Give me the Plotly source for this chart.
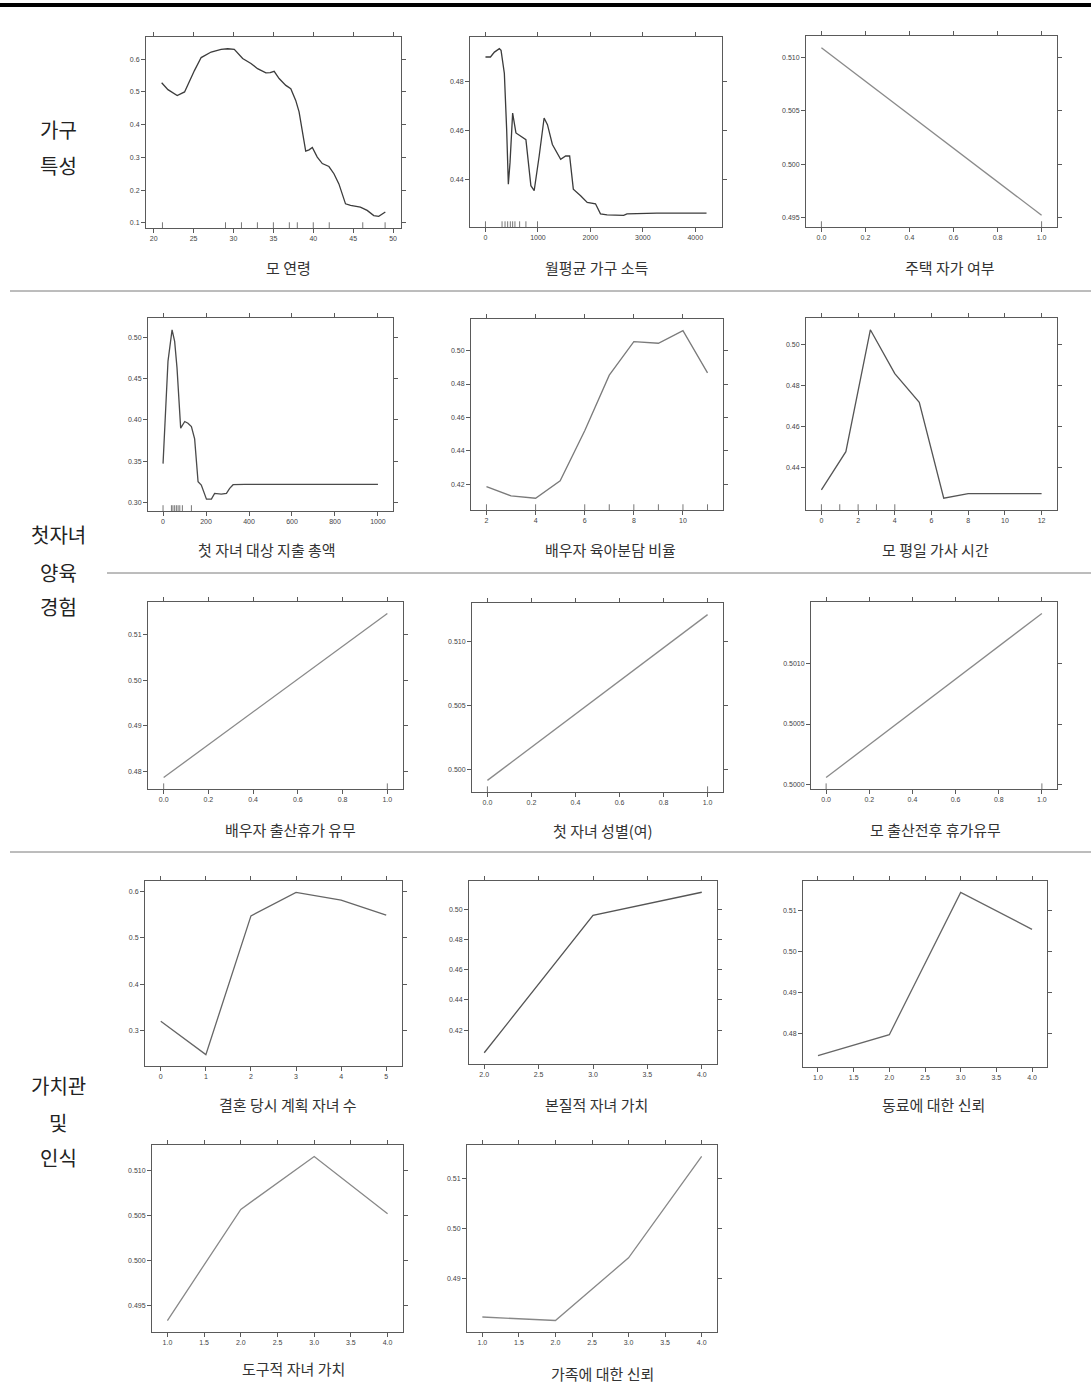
import plotly.graph_objects as go

W, H = 1091, 1388

# ---------------- data ----------------
age_x = [21.0, 21.79, 22.95, 23.87, 25.12, 25.95, 27.2, 28.45, 29.28, 30.1, 31.15, 32.19, 33.02, 34.06, 34.6,
         35.1, 35.72, 36.56, 37.18, 37.8, 38.22, 38.64, 39.05, 39.47, 39.88, 40.5, 41.13, 41.96, 42.59, 43.21,
         44.04, 44.67, 45.9, 46.75, 47.58, 48.2, 49.03]
age_y = [0.528, 0.507, 0.489, 0.500, 0.566, 0.605, 0.622, 0.630, 0.632, 0.630, 0.602, 0.587, 0.571, 0.558, 0.559,
         0.563, 0.541, 0.520, 0.510, 0.474, 0.439, 0.383, 0.319, 0.323, 0.330, 0.301, 0.281, 0.272, 0.250, 0.219,
         0.158, 0.153, 0.148, 0.138, 0.122, 0.120, 0.133]
age_rug = [21.1, 29.0, 31.0, 33.0, 35.0, 37.0, 38.0, 40.0, 42.0, 46.2, 49.0]

income_x = [0, 95, 171, 265, 297, 360, 404, 436, 468, 518, 581, 676, 771, 866, 929, 1024, 1118, 1182, 1276, 1434,
            1529, 1605, 1675, 1814, 1940, 2098, 2193, 2319, 2635, 2698, 3267, 4215]
income_y = [0.4901, 0.4901, 0.4921, 0.4935, 0.4928, 0.4834, 0.4605, 0.4382, 0.4470, 0.4672, 0.4591, 0.4578, 0.4564,
            0.4376, 0.4356, 0.4497, 0.4652, 0.4625, 0.4544, 0.4484, 0.4497, 0.4497, 0.4362, 0.4335, 0.4308, 0.4302,
            0.4261, 0.4257, 0.4255, 0.4261, 0.4264, 0.4264]
income_rug = [0, 316, 373, 423, 474, 518, 562, 651, 771, 992]

own_x = [0, 1]
own_y = [0.51088, 0.49525]
own_rug = [0, 1]

spend_x = [0, 12, 23, 42, 54, 65, 82, 101, 116, 132, 147, 163, 178, 202, 225, 240, 271, 295, 310, 326, 380, 1000]
spend_y = [0.347, 0.414, 0.471, 0.509, 0.495, 0.463, 0.390, 0.398, 0.396, 0.392, 0.377, 0.325, 0.321, 0.304,
           0.304, 0.311, 0.310, 0.311, 0.317, 0.3215, 0.322, 0.322]
spend_rug = [0, 39, 46, 54, 62, 70, 78, 90, 132]

share_x = [2, 3, 4, 5, 6, 7, 8, 9, 10, 11]
share_y = [0.4186, 0.4130, 0.4116, 0.4220, 0.4520, 0.4853, 0.5054, 0.5044, 0.5119, 0.4867]
share_rug = [2, 4, 6, 7, 8, 9, 10, 11]

house_x = [0, 1.333, 2.667, 4, 5.333, 6.667, 8, 9.333, 10.667, 12]
house_y = [0.4293, 0.4479, 0.5074, 0.4860, 0.4720, 0.4252, 0.4274, 0.4274, 0.4274, 0.4274]
house_rug = [0, 1, 2, 3, 4]

leave_sp_x = [0, 1]
leave_sp_y = [0.4787, 0.5146]

sex_x = [0, 1]
sex_y = [0.49919, 0.51209]

leave_mo_x = [0, 1]
leave_mo_y = [0.500056, 0.501417]

plan_x = [0, 1, 2, 3, 4, 5]
plan_y = [0.3195, 0.2472, 0.5477, 0.5986, 0.5819, 0.5494]

intr_x = [2, 3, 4]
intr_y = [0.4049, 0.4963, 0.5116]

coll_x = [1, 2, 3, 4]
coll_y = [0.4747, 0.4798, 0.5145, 0.5055]

inst_x = [1, 2, 3, 4]
inst_y = [0.4933, 0.5057, 0.5116, 0.5052]

fam_x = [1, 2, 3, 4]
fam_y = [0.4824, 0.4817, 0.4942, 0.5144]

# tick values
t_age_x = [20, 25, 30, 35, 40, 45, 50]
t_age_y = [0.1, 0.2, 0.3, 0.4, 0.5, 0.6]
t_inc_x = [0, 1000, 2000, 3000, 4000]
t_inc_y = [0.44, 0.46, 0.48]
t_01_x = [0.0, 0.2, 0.4, 0.6, 0.8, 1.0]
t_own_y = [0.495, 0.500, 0.505, 0.510]
t_sp_x = [0, 200, 400, 600, 800, 1000]
t_sp_y = [0.30, 0.35, 0.40, 0.45, 0.50]
t_sh_x = [2, 4, 6, 8, 10]
t_sh_y = [0.42, 0.44, 0.46, 0.48, 0.50]
t_ho_x = [0, 2, 4, 6, 8, 10, 12]
t_ho_y = [0.44, 0.46, 0.48, 0.50]
t_ls_y = [0.48, 0.49, 0.50, 0.51]
t_sex_y = [0.500, 0.505, 0.510]
t_lm_y = [0.5000, 0.5005, 0.5010]
t_pl_x = [0, 1, 2, 3, 4, 5]
t_pl_y = [0.3, 0.4, 0.5, 0.6]
t_in_x = [2.0, 2.5, 3.0, 3.5, 4.0]
t_in_y = [0.42, 0.44, 0.46, 0.48, 0.50]
t_14_x = [1.0, 1.5, 2.0, 2.5, 3.0, 3.5, 4.0]
t_co_y = [0.48, 0.49, 0.50, 0.51]
t_is_y = [0.495, 0.500, 0.505, 0.510]
t_fa_y = [0.49, 0.50, 0.51]

titles = ["모 연령", "월평균 가구 소득", "주택 자가 여부",
          "첫 자녀 대상 지출 총액", "배우자 육아분담 비율", "모 평일 가사 시간",
          "배우자 출산휴가 유무", "첫 자녀 성별(여)", "모 출산전후 휴가유무",
          "결혼 당시 계획 자녀 수", "본질적 자녀 가치", "동료에 대한 신뢰",
          "도구적 자녀 가치", "가족에 대한 신뢰"]

sections = [["가구", "특성"], ["첫자녀", "양육", "경험"], ["가치관", "및", "인식"]]

# ---------------- layout of panels (pixel boxes) ----------------
panels = [
    dict(x=age_x, y=age_y, rug=age_rug, tx=t_age_x, ty=t_age_y, fx="d", fy=".1f", box=(146, 37, 401, 228), col="#3c3c3c", title_xy=(288, 267)),
    dict(x=income_x, y=income_y, rug=income_rug, tx=t_inc_x, ty=t_inc_y, fx="d", fy=".2f", box=(470, 37, 722, 227), col="#3c3c3c", title_xy=(597, 267)),
    dict(x=own_x, y=own_y, rug=own_rug, tx=t_01_x, ty=t_own_y, fx=".1f", fy=".3f", box=(806, 36, 1057, 227), col="#8a8a8a", title_xy=(950, 267)),
    dict(x=spend_x, y=spend_y, rug=spend_rug, tx=t_sp_x, ty=t_sp_y, fx="d", fy=".2f", box=(148, 318, 393, 511), col="#4a4a4a", title_xy=(267, 550)),
    dict(x=share_x, y=share_y, rug=share_rug, tx=t_sh_x, ty=t_sh_y, fx="d", fy=".2f", box=(471, 319, 723, 510), col="#7a7a7a", title_xy=(610, 549)),
    dict(x=house_x, y=house_y, rug=house_rug, tx=t_ho_x, ty=t_ho_y, fx="d", fy=".2f", box=(806, 318, 1057, 510), col="#555555", title_xy=(935, 549)),
    dict(x=leave_sp_x, y=leave_sp_y, rug=[0, 1], tx=t_01_x, ty=t_ls_y, fx=".1f", fy=".2f", box=(148, 602, 403, 789), col="#8a8a8a", title_xy=(290, 829)),
    dict(x=sex_x, y=sex_y, rug=[0, 1], tx=t_01_x, ty=t_sex_y, fx=".1f", fy=".3f", box=(472, 603, 723, 792), col="#8a8a8a", title_xy=(603, 830)),
    dict(x=leave_mo_x, y=leave_mo_y, rug=[0, 1], tx=t_01_x, ty=t_lm_y, fx=".1f", fy=".4f", box=(811, 602, 1057, 789), col="#8a8a8a", title_xy=(935, 829)),
    dict(x=plan_x, y=plan_y, rug=[], tx=t_pl_x, ty=t_pl_y, fx="d", fy=".1f", box=(145, 881, 402, 1066), col="#666666", title_xy=(288, 1104)),
    dict(x=intr_x, y=intr_y, rug=[], tx=t_in_x, ty=t_in_y, fx=".1f", fy=".2f", box=(469, 881, 717, 1064), col="#555555", title_xy=(596, 1104)),
    dict(x=coll_x, y=coll_y, rug=[], tx=t_14_x, ty=t_co_y, fx=".1f", fy=".2f", box=(803, 881, 1047, 1067), col="#666666", title_xy=(933, 1104)),
    dict(x=inst_x, y=inst_y, rug=[], tx=t_14_x, ty=t_is_y, fx=".1f", fy=".3f", box=(152, 1145, 403, 1332), col="#888888", title_xy=(293, 1368)),
    dict(x=fam_x, y=fam_y, rug=[], tx=t_14_x, ty=t_fa_y, fx=".1f", fy=".2f", box=(467, 1145, 717, 1332), col="#888888", title_xy=(603, 1373)),
]

fig = go.Figure()
layout_axes = {}
annotations = []
AX = "#5a5a5a"
tickfont = dict(family="Liberation Sans, Arial, sans-serif", size=7, color="#444444")


def padded(vals):
    lo, hi = min(vals), max(vals)
    p = 0.07 * (hi - lo)
    return [lo - p, hi + p]


for i, p in enumerate(panels, start=1):
    xr = padded(p["x"])
    yr = padded(p["y"])
    sfx = "" if i == 1 else str(i)
    l, t, r, b = p["box"]
    fig.add_trace(go.Scatter(x=p["x"], y=p["y"], mode="lines",
                             line=dict(color=p["col"], width=1.3),
                             xaxis="x" + sfx, yaxis="y" + sfx, showlegend=False, hoverinfo="skip"))
    if p["rug"]:
        rx, ry = [], []
        h = 0.03 * (yr[1] - yr[0])
        for v in p["rug"]:
            rx += [v, v, None]
            ry += [yr[0], yr[0] + h, None]
        fig.add_trace(go.Scatter(x=rx, y=ry, mode="lines", line=dict(color="#555555", width=0.8),
                                 xaxis="x" + sfx, yaxis="y" + sfx, showlegend=False, hoverinfo="skip"))
    common = dict(showline=True, linecolor=AX, linewidth=1, mirror="allticks", ticks="outside",
                  ticklen=4, tickwidth=1, tickcolor=AX, showgrid=False, zeroline=False,
                  tickfont=tickfont, fixedrange=True)
    layout_axes["xaxis" + sfx] = dict(domain=[l / W, r / W], range=xr, anchor="y" + sfx,
                                      tickvals=p["tx"], tickformat=p["fx"], **common)
    layout_axes["yaxis" + sfx] = dict(domain=[1 - b / H, 1 - t / H], range=yr, anchor="x" + sfx,
                                      tickvals=p["ty"], tickformat=p["fy"], **common)
    cx, cy = p["title_xy"]
    annotations.append(dict(x=cx / W, y=1 - cy / H, xref="paper", yref="paper", text=titles[i - 1],
                            showarrow=False, xanchor="center", yanchor="middle",
                            font=dict(family="Noto Sans CJK KR", size=15, color="#333333")))

# section labels
sec_pos = [[130, 166], [535, 572, 607], [1085, 1122, 1157]]
for lines, ys in zip(sections, sec_pos):
    for txt, yy in zip(lines, ys):
        annotations.append(dict(x=58 / W, y=1 - yy / H, xref="paper", yref="paper", text=txt,
                                showarrow=False, xanchor="center", yanchor="middle",
                                font=dict(family="Noto Sans CJK KR", size=20, color="#222222")))

shapes = [
    dict(type="line", xref="paper", yref="paper", x0=0, x1=1, y0=1 - 5 / H, y1=1 - 5 / H,
         line=dict(color="#000000", width=4)),
    dict(type="line", xref="paper", yref="paper", x0=10 / W, x1=1, y0=1 - 291 / H, y1=1 - 291 / H,
         line=dict(color="#7a7a7a", width=1)),
    dict(type="line", xref="paper", yref="paper", x0=107 / W, x1=1, y0=1 - 573 / H, y1=1 - 573 / H,
         line=dict(color="#7a7a7a", width=1)),
    dict(type="line", xref="paper", yref="paper", x0=10 / W, x1=1, y0=1 - 852 / H, y1=1 - 852 / H,
         line=dict(color="#7a7a7a", width=1)),
]

fig.update_layout(width=W, height=H, margin=dict(l=0, r=0, t=0, b=0),
                  paper_bgcolor="white", plot_bgcolor="white",
                  annotations=annotations, shapes=shapes, showlegend=False, **layout_axes)

fig.write_html("out.html", config={"displayModeBar": False})
